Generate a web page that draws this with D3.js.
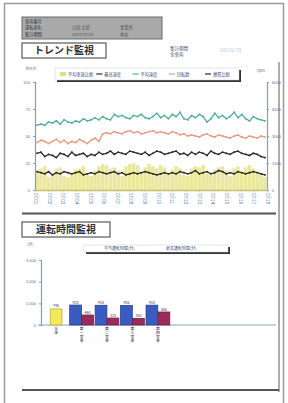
<!DOCTYPE html>
<html>
<head>
<meta charset="utf-8">
<script src="https://cdn.jsdelivr.net/npm/d3@7"></script>
<style>
body { margin: 0; background: #fff; }
svg { display: block; font-family: "Noto Sans CJK JP", "Noto Sans", sans-serif; }
</style>
</head>
<body>
<svg id="page" width="288" height="403"></svg>
<script>
// trend chart data
var trendDates = ["07/01","07/02","07/03","07/04","07/05","07/06","07/07","07/08","07/09",
	"07/10","07/11","07/12","07/13","07/14","07/15","07/16","07/17","07/18"];
var trendSeriesNames = ["平均車速比較", "最高速度", "平均速度", "回転数", "燃費比較"];
var greenLine = [60,61,60,63,62,64,61,65,63,62,64,63,66,64,65,67,65,68,66,65,70,68,69,67,66,69,68,70,67,66,
	68,71,67,69,66,70,68,72,66,65,69,67,70,68,63,66,71,67,69,66,68,72,67,70,66,64,68,66,65,64];
var orangeLine = [44,46,45,43,45,47,44,46,43,45,44,47,45,43,46,48,45,52,53,52,54,53,52,54,55,53,54,52,53,54,
	55,53,54,53,52,54,53,51,52,50,51,50,49,51,52,50,49,51,50,49,48,50,51,49,48,50,49,48,50,49];
var blackUpper = [34,35,31,33,32,30,34,33,31,35,32,33,34,31,33,32,35,33,34,36,33,35,34,33,36,35,34,33,35,32,
	34,36,35,33,34,35,36,33,34,32,35,33,35,34,32,36,34,33,35,34,33,35,36,34,33,32,34,33,31,30];
var blackLower = [17,16,15,17,14,16,15,17,16,15,16,17,14,15,16,15,17,16,15,16,17,15,16,14,15,16,15,16,17,16,
	15,14,15,16,15,16,15,17,16,15,16,18,15,16,17,15,16,18,17,15,16,15,17,16,15,16,17,16,15,14];
var yellowBars = [18,20,22,12,14,20,21,13,12,15,19,20,22,14,13,18,22,24,23,20,21,18,13,22,24,25,23,16,21,24,
	22,20,23,21,15,19,22,20,14,13,20,22,21,23,15,14,19,21,22,18,13,20,22,16,21,23,20,15,14,12];
var leftTicks = [0, 25, 50, 75, 100];
var rightTicks = ["0", "1500", "3000", "4500", "6000"];

// driving time chart data
var timeCategories = ["全体", "第一営業", "第二営業", "第三営業", "第四営業"];
var timeSeriesNames = ["平均運転時間(分)", "最長運転時間(分)"];
var avgTime = [740, 920, 910, 905, 915];
var maxTime = [null, 460, 320, 300, 600];
var timeTicks = [0, 1000, 2000, 3000];

var svg = d3.select("#page");

// page frame
svg.append("rect").attr("x", 4.5).attr("y", 3.5).attr("width", 279).attr("height", 410)
	.attr("fill", "none").attr("stroke", "#9a9a9a").attr("stroke-width", 1.5);

// header block
var head = svg.append("g");
head.append("rect").attr("x", 22).attr("y", 17).attr("width", 140).attr("height", 22)
	.attr("fill", "#a9a9a9").attr("stroke", "#6a6a6a").attr("stroke-width", 1);
var headRows = [["車両番号", "", ""], ["運転者名", "山田 太郎", "事業所"], ["集計期間", "2007/07/01", "本社"]];
headRows.forEach(function(r, i) {
	var y = 22.5 + i * 6.8;
	head.append("text").attr("x", 25).attr("y", y).text(r[0]).attr("font-size", 4.2).attr("fill", "#333");
	head.append("text").attr("x", 72).attr("y", y).text(r[1]).attr("font-size", 4.2).attr("fill", "#555");
	head.append("text").attr("x", 120).attr("y", y).text(r[2]).attr("font-size", 4.2).attr("fill", "#555");
});

function titleBox(x, y, w, h, label) {
	svg.append("rect").attr("x", x).attr("y", y).attr("width", w).attr("height", h)
		.attr("fill", "#fff").attr("stroke", "#666").attr("stroke-width", 1.3);
	svg.append("text").attr("x", x + w / 2).attr("y", y + h / 2 + 3.6).attr("text-anchor", "middle")
		.attr("font-size", 10).attr("font-weight", 600).attr("fill", "#333").text(label);
}
titleBox(22, 43, 84, 15, "トレンド監視");
titleBox(22, 222, 88, 15, "運転時間監視");

svg.append("text").attr("x", 170).attr("y", 50).attr("font-size", 4.5).attr("fill", "#3a4e7a").text("集計期間");
svg.append("text").attr("x", 170).attr("y", 56).attr("font-size", 4.5).attr("fill", "#3a4e7a").text("全車両");
svg.append("text").attr("x", 220).attr("y", 52).attr("font-size", 4.5).attr("fill", "#b8c8d8").text("2007年7月");

// section frame lines
svg.append("line").attr("x1", 279).attr("x2", 279).attr("y1", 62).attr("y2", 392)
	.attr("stroke", "#777").attr("stroke-width", 1.2);
svg.append("line").attr("x1", 22).attr("x2", 276).attr("y1", 213.5).attr("y2", 213.5)
	.attr("stroke", "#555").attr("stroke-width", 1.8);
svg.append("line").attr("x1", 22).attr("x2", 279).attr("y1", 390).attr("y2", 390)
	.attr("stroke", "#555").attr("stroke-width", 1.8);

// ---------- trend chart ----------
var plotL = 35, plotR = 267, plotT = 82, plotB = 190;
var idx = d3.range(greenLine.length);
var x = d3.scaleLinear().domain([0, greenLine.length - 1]).range([plotL + 2, plotR - 2]);
var xb = d3.scaleBand().domain(idx).range([plotL, plotR]).padding(0.08);
var y = d3.scaleLinear().domain([0, 100]).range([plotB, plotT]);
var xDate = d3.scalePoint().domain(trendDates).range([plotL, plotR]);

var trend = svg.append("g");

trend.selectAll("rect.bar").data(yellowBars).enter().append("rect")
	.attr("class", "bar")
	.attr("x", function(d, i) { return xb(i); })
	.attr("width", xb.bandwidth())
	.attr("y", function(d) { return y(d); })
	.attr("height", function(d) { return plotB - y(d); })
	.attr("fill", "#e2e07e").attr("opacity", 0.75);

var line = d3.line().x(function(d, i) { return x(i); }).y(function(d) { return y(d); });
var lines = [
	{ data: greenLine, color: "#4fae98" },
	{ data: orangeLine, color: "#e89a7e" },
	{ data: blackUpper, color: "#2a2a2a" },
	{ data: blackLower, color: "#2a2a2a" }
];
lines.forEach(function(s) {
	trend.append("path").datum(s.data).attr("d", line)
		.attr("fill", "none").attr("stroke", s.color).attr("stroke-width", 1.3);
	trend.selectAll(null).data(s.data).enter().append("rect")
		.attr("x", function(d, i) { return x(i) - 0.8; })
		.attr("y", function(d) { return y(d) - 0.8; })
		.attr("width", 1.6).attr("height", 1.6).attr("fill", s.color);
});

var yAxisL = d3.axisLeft(y).tickValues(leftTicks).tickSize(2).tickFormat(d3.format("d"));
var gL = trend.append("g").attr("transform", "translate(" + plotL + ",0)").call(yAxisL);
var yR = d3.scalePoint().domain(rightTicks).range([plotB, plotT]);
var gR = trend.append("g").attr("transform", "translate(" + plotR + ",0)").call(d3.axisRight(yR).tickSize(2));
[gL, gR].forEach(function(g) {
	g.select(".domain").attr("stroke", "#7f9fbf").attr("stroke-width", 1.2);
	g.selectAll(".tick line").attr("stroke", "#7f9fbf");
	g.selectAll(".tick text").attr("font-size", 4).attr("fill", "#4a6fa0");
});

var gX = trend.append("g").attr("transform", "translate(0," + plotB + ")")
	.call(d3.axisBottom(xDate).tickSize(1.5));
gX.select(".domain").attr("stroke", "#c8c070").attr("stroke-width", 1.5);
gX.selectAll(".tick line").attr("stroke", "#c8c070");
gX.selectAll(".tick text").attr("font-size", 4.5).attr("fill", "#5a80b0")
	.attr("transform", "rotate(90)").attr("text-anchor", "start").attr("dy", "0.35em")
	.attr("x", 3).attr("y", 0);

trend.append("text").attr("x", 26).attr("y", 70).attr("font-size", 4).attr("fill", "#4a6fa0").text("km/h");
trend.append("text").attr("x", 257).attr("y", 72).attr("font-size", 4).attr("fill", "#4a6fa0").text("rpm");

// legend 1
var leg1 = svg.append("g");
leg1.append("rect").attr("x", 57).attr("y", 70).attr("width", 184).attr("height", 12)
	.attr("fill", "#333");
leg1.append("rect").attr("x", 55).attr("y", 68).attr("width", 184).attr("height", 12)
	.attr("fill", "#fff").attr("stroke", "#ccc").attr("stroke-width", 0.5);
var legColors = ["#e2e07e", "#2a2a2a", "#4fae98", "#e89a7e", "#2a2a2a"];
var legX = d3.scalePoint().domain(trendSeriesNames).range([60, 205]);
trendSeriesNames.forEach(function(n, i) {
	var lx = legX(n);
	if (i === 0) {
		leg1.append("rect").attr("x", lx).attr("y", 72).attr("width", 6).attr("height", 4).attr("fill", legColors[i]);
	} else {
		leg1.append("line").attr("x1", lx).attr("x2", lx + 6).attr("y1", 74).attr("y2", 74)
			.attr("stroke", legColors[i]).attr("stroke-width", 1.2);
	}
	leg1.append("text").attr("x", lx + 8).attr("y", 75.6).attr("font-size", 4.2).attr("fill", "#3a4e7a").text(n);
});

// ---------- driving time chart ----------
var tL = 41, tR = 276, tT = 260, tB = 325;
var xc = d3.scaleBand().domain(timeCategories).range([44, 170]).paddingInner(0.05);
var xs = d3.scaleBand().domain(timeSeriesNames).range([0, xc.bandwidth()]).padding(0.02);
var yt = d3.scaleLinear().domain([0, 3000]).range([tB, tT]);

var tg = svg.append("g");
tg.append("g").attr("transform", "translate(" + tL + ",0)")
	.call(d3.axisLeft(yt).tickValues(timeTicks).tickSize(2))
	.call(function(g) {
		g.select(".domain").attr("stroke", "#7f9fbf").attr("stroke-width", 1.2);
		g.selectAll(".tick line").attr("stroke", "#7f9fbf");
		g.selectAll(".tick text").attr("font-size", 4).attr("fill", "#4a6fa0");
	});
tg.append("line").attr("x1", 38).attr("x2", tR).attr("y1", tB).attr("y2", tB)
	.attr("stroke", "#8aa4c0").attr("stroke-width", 1);
tg.append("text").attr("x", 27).attr("y", 246).attr("font-size", 4).attr("fill", "#4a6fa0").text("(分)");

var bars = [];
timeCategories.forEach(function(c, i) {
	if (maxTime[i] == null) {
		bars.push({ x: xc(c) + xc.bandwidth() / 2 - xs.bandwidth() / 2, w: xs.bandwidth(), v: avgTime[i], fill: "#f2ea5a", stroke: "#c9a640" });
	} else {
		bars.push({ x: xc(c) + xs(timeSeriesNames[0]), w: xs.bandwidth(), v: avgTime[i], fill: "#3a5cc0", stroke: "#28408c" });
		bars.push({ x: xc(c) + xs(timeSeriesNames[1]), w: xs.bandwidth(), v: maxTime[i], fill: "#9a2a5a", stroke: "#6e1c40" });
	}
});
tg.selectAll("rect.tb").data(bars).enter().append("rect").attr("class", "tb")
	.attr("x", function(d) { return d.x; })
	.attr("width", function(d) { return d.w; })
	.attr("y", function(d) { return yt(d.v); })
	.attr("height", function(d) { return tB - yt(d.v); })
	.attr("fill", function(d) { return d.fill; })
	.attr("stroke", function(d) { return d.stroke; }).attr("stroke-width", 0.8);
tg.selectAll("text.tv").data(bars).enter().append("text").attr("class", "tv")
	.attr("x", function(d) { return d.x + d.w / 2; })
	.attr("y", function(d) { return yt(d.v) - 1.5; })
	.attr("text-anchor", "middle").attr("font-size", 3.6).attr("fill", "#334")
	.text(function(d) { return d.v; });

// vertical category labels
timeCategories.forEach(function(c) {
	var t = tg.append("text").attr("font-size", 3.8).attr("fill", "#223").attr("text-anchor", "middle");
	c.split("").forEach(function(ch, k) {
		t.append("tspan").attr("x", xc(c) + xc.bandwidth() / 2).attr("y", tB + 5 + k * 4).text(ch);
	});
});

// legend 2
var leg2 = svg.append("g");
leg2.append("rect").attr("x", 86).attr("y", 247).attr("width", 144).attr("height", 7).attr("fill", "#333");
leg2.append("rect").attr("x", 84).attr("y", 245).attr("width", 144).attr("height", 7)
	.attr("fill", "#fff").attr("stroke", "#ccc").attr("stroke-width", 0.5);
var leg2X = d3.scalePoint().domain(timeSeriesNames).range([104, 166]);
timeSeriesNames.forEach(function(n) {
	leg2.append("text").attr("x", leg2X(n)).attr("y", 250.3).attr("font-size", 4).attr("fill", "#3a4e7a").text(n);
});
</script>
</body>
</html>
